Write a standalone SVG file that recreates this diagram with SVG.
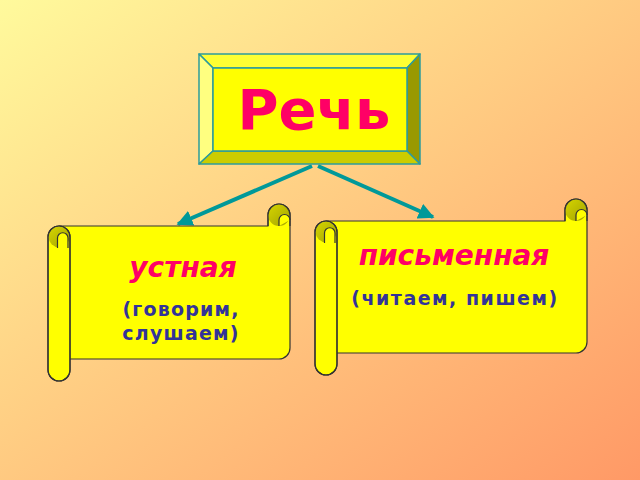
<svg xmlns="http://www.w3.org/2000/svg" width="640" height="480" viewBox="0 0 640 480">
<defs>
<linearGradient id="bg" x1="0" y1="0" x2="1" y2="1">
<stop offset="0" stop-color="#FFFA9C"/>
<stop offset="1" stop-color="#FF9966"/>
</linearGradient>
<linearGradient id="olive" x1="0" y1="0" x2="1" y2="1">
<stop offset="0" stop-color="#D6D600"/>
<stop offset="1" stop-color="#A3A300"/>
</linearGradient>
<marker id="ah" viewBox="0 0 10 10" refX="9" refY="5" markerWidth="4" markerHeight="4" orient="auto" markerUnits="strokeWidth">
<path d="M0,0 L10,5 L0,10 Z" fill="#009999"/>
</marker>
<style>
.bev{stroke:#2E9C9C;stroke-width:1.5;stroke-linejoin:round}
.scroll{fill:#FFFF00;stroke:#333333;stroke-width:1.2;stroke-linejoin:round}
.dark{fill:url(#olive);stroke:none}
.tongue{fill:#FFFF00;stroke:#333333;stroke-width:1.2}
.ln{fill:none;stroke:#333333;stroke-width:1.2;stroke-linejoin:round}
.head{font-family:"DejaVu Sans",sans-serif;font-weight:bold;font-style:italic;fill:#FF0066;text-anchor:middle}
.sub{font-family:"DejaVu Sans",sans-serif;font-weight:bold;fill:#333399;text-anchor:middle}
.conn{stroke:#009999;stroke-width:4;fill:none}
</style>
</defs>
<rect x="0" y="0" width="640" height="480" fill="url(#bg)"/>

<g id="connectors">
<line class="conn" x1="312" y1="166" x2="178" y2="224" marker-end="url(#ah)"/>
<line class="conn" x1="318" y1="166" x2="433" y2="217" marker-end="url(#ah)"/>
</g>

<g id="node-rech">
<polygon class="bev" fill="#FFFF33" points="199,54 420,54 407,68 213,68"/>
<polygon class="bev" fill="#FFFF80" points="199,54 213,68 213,151 199,164"/>
<polygon class="bev" fill="#999900" points="420,54 420,164 407,151 407,68"/>
<polygon class="bev" fill="#CCCC00" points="199,164 420,164 407,151 213,151"/>
<rect class="bev" x="213" y="68" width="194" height="83" fill="#FFFF00"/>
<text x="314" y="129" font-family="DejaVu Sans, sans-serif" font-weight="bold" font-size="56" fill="#FF0066" text-anchor="middle">Речь</text>
</g>

<g id="node-ustnaya">
<path class="scroll" d="M59,226 L268,226 L268,215 A11,11 0 0 1 290,215 L290,348 A11,11 0 0 1 279,359 L59,359 Z"/>
<circle class="dark" cx="279" cy="215" r="11"/>
<path class="tongue" d="M279,226 L279,220 A5.5,5.5 0 0 1 290,220"/>
<path class="ln" d="M268,226 L268,215 A11,11 0 0 1 290,215 L290,226"/>
<path class="scroll" d="M48,237 A11,11 0 0 1 70,237 L70,370 A11,11 0 0 1 48,370 Z"/>
<circle class="dark" cx="59" cy="237" r="10.4"/>
<path class="tongue" d="M57.5,248 L57.5,238 A5.25,5.25 0 0 1 68,238 L68,248"/>
<path class="ln" d="M48,237 A11,11 0 0 1 70,237 L70,370 A11,11 0 0 1 48,370 Z"/>
<text class="head" x="183" y="277" font-size="28">устная</text>
<text class="sub" x="181" y="316" font-size="19" letter-spacing="1.2">(говорим,</text>
<text class="sub" x="181" y="340" font-size="19" letter-spacing="1.2">слушаем)</text>
</g>

<g id="node-pismennaya">
<path class="scroll" d="M326,221 L565,221 L565,210 A11,11 0 0 1 587,210 L587,342 A11,11 0 0 1 576,353 L326,353 Z"/>
<circle class="dark" cx="576" cy="210" r="11"/>
<path class="tongue" d="M576,221 L576,215 A5.5,5.5 0 0 1 587,215"/>
<path class="ln" d="M565,221 L565,210 A11,11 0 0 1 587,210 L587,221"/>
<path class="scroll" d="M315,232 A11,11 0 0 1 337,232 L337,364 A11,11 0 0 1 315,364 Z"/>
<circle class="dark" cx="326" cy="232" r="10.4"/>
<path class="tongue" d="M324.5,243 L324.5,233 A5.25,5.25 0 0 1 335,233 L335,243"/>
<path class="ln" d="M315,232 A11,11 0 0 1 337,232 L337,364 A11,11 0 0 1 315,364 Z"/>
<text class="head" x="454" y="265" font-size="28">письменная</text>
<text class="sub" x="455" y="305" font-size="19" letter-spacing="1.5">(читаем, пишем)</text>
</g>
</svg>
